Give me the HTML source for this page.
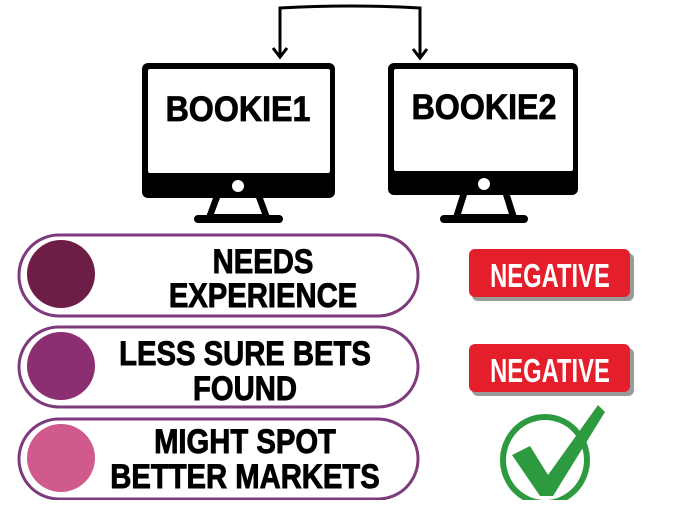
<!DOCTYPE html>
<html><head><meta charset="utf-8"><style>
body{margin:0;width:700px;height:500px;background:#fff;overflow:hidden}
svg text{font-family:"Liberation Sans",sans-serif;font-weight:bold}
</style></head><body>
<svg width="700" height="500" viewBox="0 0 700 500" xmlns="http://www.w3.org/2000/svg">
<path d="M280,57 V8 Q350,4 420,8 V58" fill="none" stroke="#000" stroke-width="3"/>
<path d="M273,48 L280,57 L287,48" fill="none" stroke="#000" stroke-width="3"/>
<path d="M413,49 L420,58 L427,49" fill="none" stroke="#000" stroke-width="3"/>
<rect x="142" y="63" width="193" height="135" rx="6" fill="#000"/>
<rect x="148" y="69" width="182" height="104" rx="2" fill="#fff"/>
<circle cx="238" cy="186" r="6" fill="#fff"/>
<path d="M213,198 L263,198 L270,217 L206,217 Z" fill="#000"/>
<path d="M220,198 L256,198 L262,214 L214,214 Z" fill="#fff"/>
<rect x="194" y="215" width="89" height="8" rx="4" fill="#000"/>
<text x="238" y="121" font-size="35" text-anchor="middle" stroke="#000" stroke-width="0.8" transform="translate(238 0) scale(0.92 1) translate(-238 0)">BOOKIE1</text>
<rect x="388" y="63" width="190" height="132" rx="6" fill="#000"/>
<rect x="394" y="69" width="179" height="102" rx="2" fill="#fff"/>
<circle cx="484" cy="184" r="6" fill="#fff"/>
<path d="M460,195 L510,195 L517,217 L453,217 Z" fill="#000"/>
<path d="M467,195 L503,195 L509,214 L461,214 Z" fill="#fff"/>
<rect x="440" y="215" width="88" height="8" rx="4" fill="#000"/>
<text x="484" y="119" font-size="35" text-anchor="middle" stroke="#000" stroke-width="0.8" transform="translate(484 0) scale(0.92 1) translate(-484 0)">BOOKIE2</text>
<g fill="#fff" stroke="#7d3a7d" stroke-width="3">
<rect x="19" y="235" width="399" height="81" rx="40"/>
<rect x="19" y="327" width="399" height="80" rx="40"/>
<rect x="19" y="419" width="399" height="80" rx="40"/>
</g>
<circle cx="61" cy="274" r="34" fill="#6e1e46"/>
<circle cx="61" cy="366" r="34" fill="#8c2f72"/>
<circle cx="61" cy="458" r="34" fill="#cf5a8b"/>
<g font-size="34" text-anchor="middle" stroke="#000" stroke-width="0.9">
<text x="263" y="273" transform="translate(263 0) scale(0.86 1) translate(-263 0)">NEEDS</text>
<text x="263" y="307" transform="translate(263 0) scale(0.86 1) translate(-263 0)">EXPERIENCE</text>
<text x="245" y="365" transform="translate(245 0) scale(0.86 1) translate(-245 0)">LESS SURE BETS</text>
<text x="245" y="400" transform="translate(245 0) scale(0.86 1) translate(-245 0)">FOUND</text>
<text x="245" y="453" transform="translate(245 0) scale(0.86 1) translate(-245 0)">MIGHT SPOT</text>
<text x="245" y="488" transform="translate(245 0) scale(0.86 1) translate(-245 0)">BETTER MARKETS</text>
</g>
<rect x="472" y="253" width="162" height="48" rx="6" fill="#9a9a9a"/>
<rect x="469" y="249" width="161" height="48" rx="6" fill="#e41e2b"/>
<text x="550" y="287" font-size="33" fill="#fff" text-anchor="middle" transform="translate(550 0) scale(0.72 1) translate(-550 0)">NEGATIVE</text>
<rect x="472" y="348" width="162" height="48" rx="6" fill="#9a9a9a"/>
<rect x="469" y="344" width="161" height="48" rx="6" fill="#e41e2b"/>
<text x="550" y="382" font-size="33" fill="#fff" text-anchor="middle" transform="translate(550 0) scale(0.72 1) translate(-550 0)">NEGATIVE</text>
<ellipse cx="545" cy="460" rx="42" ry="43" fill="none" stroke="#2e9a3f" stroke-width="6"/>
<path d="M512,455 L530,446 L548,475 L598,405 L605,412 L553,496 L540,496 Z" fill="#2e9a3f"/>
</svg>
</body></html>
